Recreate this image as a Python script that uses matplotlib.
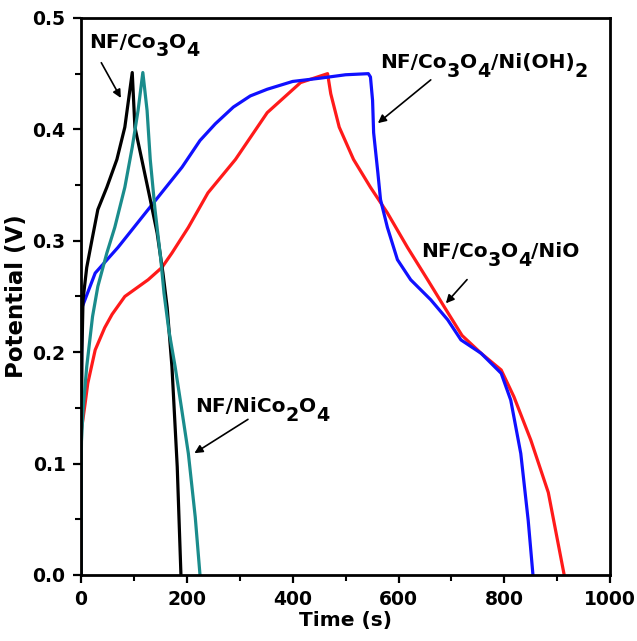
import matplotlib
matplotlib.use("Agg")
import matplotlib.pyplot as plt
from matplotlib.ticker import MultipleLocator

plt.rcParams["font.family"] = ["DejaVu Sans"]
plt.rcParams["font.weight"] = "bold"

# NF/Co3O4 (black)
co3o4_t = [0, 1, 2, 4, 11, 21, 32, 49, 68, 83, 97, 102, 115, 131, 144, 155, 163, 172, 182, 189]
co3o4_v = [0, 0.12, 0.20, 0.247, 0.276, 0.301, 0.328, 0.348, 0.373, 0.402, 0.451,
           0.402, 0.373, 0.337, 0.307, 0.271, 0.240, 0.187, 0.097, 0]

# NF/NiCo2O4 (teal)
nico_t = [0, 1, 4, 11, 22, 32, 49, 64, 83, 97, 108, 117, 125, 131, 140, 151, 157,
          166, 178, 190, 203, 216, 225]
nico_v = [0, 0.12, 0.148, 0.187, 0.232, 0.259, 0.289, 0.312, 0.348, 0.384, 0.417, 0.451,
          0.417, 0.373, 0.328, 0.283, 0.253, 0.22, 0.187, 0.15, 0.109, 0.052, 0]

# NF/Co3O4/NiO (red)
nio_t = [0, 1, 8, 13, 27, 45, 59, 83, 127, 153, 172, 203, 240, 292, 352, 415, 466,
         472, 488, 515, 547, 579, 617, 655, 686, 720, 756, 794, 818, 850, 883, 913]
nio_v = [0, 0.13, 0.154, 0.172, 0.202, 0.222, 0.234, 0.25, 0.265, 0.276, 0.289, 0.312,
         0.343, 0.373, 0.415, 0.442, 0.450, 0.432, 0.402, 0.373, 0.348, 0.325, 0.294,
         0.265, 0.241, 0.215, 0.199, 0.184, 0.160, 0.121, 0.074, 0]

# NF/Co3O4/Ni(OH)2 (blue)
nioh_t = [0, 0.5, 2, 27, 70, 127, 191, 225, 254, 288, 320, 352, 400, 453, 500, 543,
          547, 551, 553, 561, 566, 579, 598, 623, 661, 693, 718, 756, 794, 812, 831,
          845, 854]
nioh_v = [0, 0.15, 0.24, 0.271, 0.294, 0.328, 0.366, 0.390, 0.405, 0.420, 0.430, 0.436,
          0.443, 0.446, 0.449, 0.450, 0.447, 0.426, 0.397, 0.361, 0.337, 0.312, 0.283,
          0.265, 0.247, 0.229, 0.211, 0.199, 0.181, 0.157, 0.109, 0.049, 0]

fig = plt.figure(figsize=(6.37, 6.41), dpi=100)
ax = fig.add_axes([0.127, 0.103, 0.831, 0.869])

lw = 2.3
ax.plot(nio_t, nio_v, color="#FF1A1A", lw=lw)
ax.plot(nioh_t, nioh_v, color="#1010FF", lw=lw)
ax.plot(co3o4_t, co3o4_v, color="black", lw=lw)
ax.plot(nico_t, nico_v, color="#1A8C8C", lw=lw)

ax.set_xlim(0, 1000)
ax.set_ylim(0, 0.5)
ax.xaxis.set_major_locator(MultipleLocator(200))
ax.xaxis.set_minor_locator(MultipleLocator(100))
ax.yaxis.set_major_locator(MultipleLocator(0.1))
ax.yaxis.set_minor_locator(MultipleLocator(0.05))
ax.yaxis.set_major_formatter(plt.FormatStrFormatter("%.1f"))
ax.tick_params(which="major", direction="out", length=6, width=1.6, labelsize=13.5)
ax.tick_params(axis="x", which="major", pad=5)
ax.tick_params(axis="y", which="major", pad=5)
ax.tick_params(which="minor", direction="out", length=4, width=1.5)
for s in ax.spines.values():
    s.set_linewidth(2)

ax.set_xlabel("Time (s)", fontsize=14.5, fontweight="bold", labelpad=1)
ax.set_ylabel("Potential (V)", fontsize=16.5, fontweight="bold", labelpad=3)


def formula(x, y, parts, fs=14.5):
    # chain text pieces so the subscripts can be almost full size
    first = ax.text(x, y, parts[0][0], fontsize=fs, va="baseline")
    prev = first
    for s, sub in parts[1:]:
        prev = ax.annotate(s, xy=(1, 0), xycoords=(prev, first),
                           xytext=(0, -0.42 * fs if sub else 0),
                           textcoords="offset points",
                           fontsize=fs * 0.95 if sub else fs,
                           ha="left", va="bottom")


arrow = dict(arrowstyle="-|>", lw=1.2, color="black", mutation_scale=12)

formula(15, 0.473, [("NF/Co", 0), ("3", 1), ("O", 0), ("4", 1)])
ax.annotate("", xy=(78, 0.426), xytext=(36, 0.462), arrowprops=arrow)

formula(566, 0.455, [("NF/Co", 0), ("3", 1), ("O", 0), ("4", 1), ("/Ni(OH)", 0), ("2", 1)])
ax.annotate("", xy=(557, 0.404), xytext=(665, 0.446), arrowprops=arrow)

formula(642, 0.285, [("NF/Co", 0), ("3", 1), ("O", 0), ("4", 1), ("/NiO", 0)])
ax.annotate("", xy=(686, 0.242), xytext=(733, 0.267), arrowprops=arrow)

formula(216, 0.146, [("NF/NiCo", 0), ("2", 1), ("O", 0), ("4", 1)])
ax.annotate("", xy=(210, 0.108), xytext=(320, 0.141), arrowprops=arrow)

fig.savefig("out.png", dpi=100)
